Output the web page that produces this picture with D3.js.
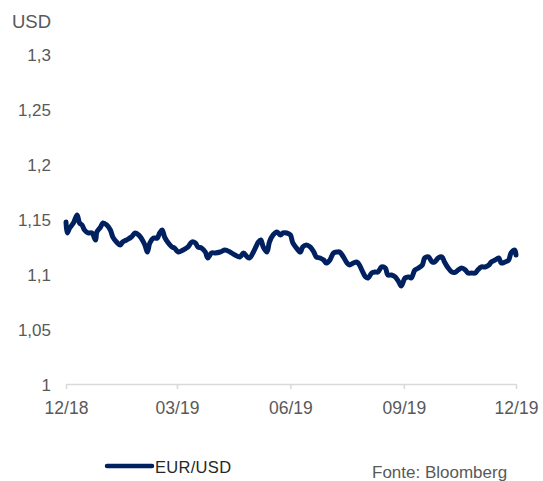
<!DOCTYPE html>
<html>
<meta charset="utf-8">
<script src="https://cdn.jsdelivr.net/npm/d3@7"></script>
<style>
  body { margin: 0; background: #fff; }
  text { font-family: "Liberation Sans", Arial, sans-serif; }
</style>
<body>
<div id="plot_area"></div>
</body>
<script>

// EUR/USD, days counted from 13/12/2018
var startDate = "2018-12-13";
var dayOffsets = [0, 1, 3, 6, 9, 11, 13, 15, 18, 21, 24, 25, 28, 30, 33, 36, 38, 41, 44, 46,
  49, 53, 56, 59, 61, 64, 66, 68, 71, 74, 76, 78, 80, 83, 86, 88, 91, 95, 99, 102,
  105, 107, 110, 113, 115, 118, 121, 125, 129, 133, 137, 141, 144, 147, 149, 152, 154, 156, 158, 160,
  163, 165, 168, 171, 174, 176, 179, 182, 184, 187, 190, 192, 195, 198, 201, 203, 206, 209, 211, 214,
  217, 220, 222, 225, 228, 230, 233, 236, 238, 240, 243, 245, 248, 251, 253, 256, 259, 261, 264, 267,
  270, 272, 275, 278, 280, 283, 286, 289, 291, 294, 297, 299, 302, 305, 307, 310, 313, 316, 318, 321,
  324, 326, 329, 332, 334, 337, 340, 343, 345, 348, 351, 353, 356, 359, 361, 364, 365];
var eurusd = [1.1482, 1.1382, 1.1427, 1.1473, 1.1545, 1.1473, 1.1455, 1.1409, 1.1382, 1.1382, 1.1318, 1.1391, 1.1436, 1.1473, 1.1455, 1.1409, 1.1345, 1.1300, 1.1273, 1.1300,
  1.1318, 1.1345, 1.1382, 1.1364, 1.1336, 1.1273, 1.1209, 1.1291, 1.1336, 1.1336, 1.1382, 1.1409, 1.1345, 1.1291, 1.1255, 1.1245, 1.1209, 1.1227, 1.1255, 1.1300,
  1.1291, 1.1255, 1.1245, 1.1209, 1.1155, 1.1200, 1.1200, 1.1209, 1.1227, 1.1209, 1.1182, 1.1164, 1.1200, 1.1164, 1.1155, 1.1209, 1.1255, 1.1300, 1.1318, 1.1255,
  1.1209, 1.1300, 1.1364, 1.1391, 1.1364, 1.1382, 1.1382, 1.1364, 1.1291, 1.1245, 1.1209, 1.1255, 1.1273, 1.1255, 1.1209, 1.1164, 1.1155, 1.1136, 1.1109, 1.1136,
  1.1200, 1.1209, 1.1209, 1.1164, 1.1109, 1.1091, 1.1109, 1.1118, 1.1091, 1.1045, 1.0982, 1.0973, 1.1018, 1.1027, 1.1027, 1.1073, 1.1064, 1.1000, 1.1000, 1.0982,
  1.0936, 1.0900, 1.0973, 1.0982, 1.0973, 1.1045, 1.1064, 1.1091, 1.1155, 1.1164, 1.1118, 1.1118, 1.1155, 1.1164, 1.1118, 1.1064, 1.1027, 1.1027, 1.1045, 1.1064,
  1.1045, 1.1018, 1.1018, 1.1018, 1.1045, 1.1073, 1.1073, 1.1091, 1.1118, 1.1136, 1.1155, 1.1109, 1.1118, 1.1136, 1.1200, 1.1227, 1.1182];

var xTicks = ["2018-12-13", "2019-03-13", "2019-06-13", "2019-09-13", "2019-12-13"];
var yTicks = [1, 1.05, 1.1, 1.15, 1.2, 1.25, 1.3];

var width = 543, height = 481;
var parse = d3.timeParse("%Y-%m-%d");
var t0 = parse(startDate);

var data = dayOffsets.map(function(d, i) {
  return { date: d3.timeDay.offset(t0, d), value: eurusd[i] };
});

var svg = d3.select("#plot_area")
  .append("svg")
    .attr("width", width)
    .attr("height", height);

var x = d3.scaleTime()
  .domain([parse(xTicks[0]), parse(xTicks[xTicks.length - 1])])
  .range([66, 516]);

var y = d3.scaleLinear()
  .domain([1, 1.3])
  .range([385, 55]);

// X axis
var xAxis = svg.append("g")
  .attr("transform", "translate(0,384)")
  .call(d3.axisBottom(x)
    .tickValues(xTicks.map(parse))
    .tickFormat(d3.timeFormat("%m/%y"))
    .tickSize(5)
    .tickSizeOuter(0));
xAxis.select(".domain").attr("stroke", "#d9d9d9").attr("stroke-width", 1.5);
xAxis.selectAll(".tick line").attr("stroke", "#d9d9d9").attr("stroke-width", 1.5);
xAxis.selectAll(".tick text")
  .attr("y", 0)
  .attr("dy", 30)
  .attr("fill", "#595959")
  .style("font-size", "17.5px")
  .style("font-family", "'Liberation Sans', Arial, sans-serif");

// Y labels (no axis line)
svg.append("g")
  .selectAll("text")
  .data(yTicks)
  .enter()
  .append("text")
    .attr("x", 51)
    .attr("y", function(d) { return y(d); })
    .attr("dy", "0.36em")
    .attr("text-anchor", "end")
    .attr("fill", "#595959")
    .style("font-size", "17px")
    .text(function(d) { return d3.format(".2~f")(d).replace(".", ","); });

svg.append("text")
  .attr("x", 12)
  .attr("y", 28)
  .attr("fill", "#595959")
  .style("font-size", "18.5px")
  .text("USD");

var line = d3.line()
  .x(function(d) { return x(d.date); })
  .y(function(d) { return y(d.value); })
  .curve(d3.curveCatmullRom.alpha(0.5));

svg.append("path")
  .datum(data)
  .attr("fill", "none")
  .attr("stroke", "#002060")
  .attr("stroke-width", 5)
  .attr("stroke-linejoin", "round")
  .attr("stroke-linecap", "round")
  .attr("d", line);

// legend
svg.append("line")
  .attr("x1", 107).attr("x2", 152)
  .attr("y1", 466).attr("y2", 466)
  .attr("stroke", "#002060")
  .attr("stroke-width", 4.5)
  .attr("stroke-linecap", "round");
svg.append("text")
  .attr("x", 155)
  .attr("y", 473)
  .attr("fill", "#262626")
  .style("font-size", "16.5px")
  .style("letter-spacing", "0.3px")
  .text("EUR/USD");

svg.append("text")
  .attr("x", 372)
  .attr("y", 478)
  .attr("fill", "#595959")
  .style("font-size", "17px")
  .text("Fonte: Bloomberg");

</script>
</html>
